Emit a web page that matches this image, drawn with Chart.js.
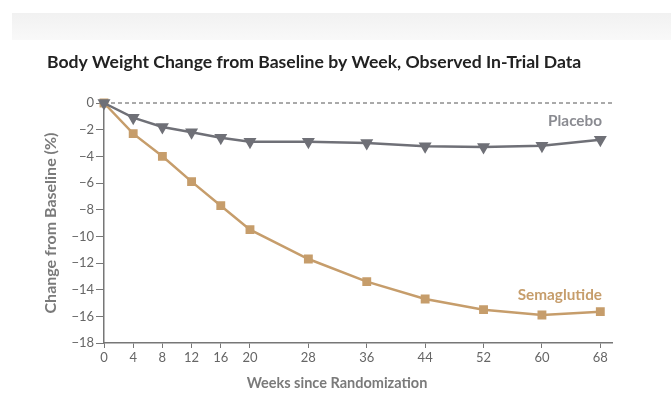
<!DOCTYPE html>
<html>
<head>
<meta charset="utf-8">
<script src="https://cdn.jsdelivr.net/npm/chart.js@4"></script>
<style>
  html, body { margin: 0; padding: 0; background: #fff; }
  #wrap { position: relative; width: 671px; height: 398px; }
  #band { position: absolute; left: 12px; top: 13px; width: 659px; height: 27px;
          background: linear-gradient(#f1f1f1, #f9f9f9); }
  #graph { position: absolute; left: 0; top: 0; }
</style>
</head>
<body>
<div id="wrap">
  <div id="band"></div>
  <canvas id="graph" width="671" height="398"></canvas>
</div>
<script>
// chart data
var weeks = [0, 4, 8, 12, 16, 20, 28, 36, 44, 52, 60, 68];
var placebo = [0, -1.1, -1.8, -2.2, -2.6, -2.9, -2.9, -3.0, -3.25, -3.3, -3.2, -2.75];
var semaglutide = [0, -2.3, -4.0, -5.9, -7.7, -9.5, -11.7, -13.4, -14.7, -15.5, -15.9, -15.65];
var yTicks = [0, -2, -4, -6, -8, -10, -12, -14, -16, -18];
var seriesNames = ["Placebo", "Semaglutide"];
var chartTitle = "Body Weight Change from Baseline by Week, Observed In-Trial Data";
var xTitle = "Weeks since Randomization";
var yTitle = "Change from Baseline (%)";

var grayCol = '#6f7077';
var tanCol = '#c69d6b';
var fontName = 'Lato, "Open Sans", sans-serif';

function pts(arr) {
  return weeks.map(function(w, i) { return {x: w, y: arr[i]}; });
}

// extra drawing: title, zero line, series labels, x title
var extras = {
  id: 'extras',
  beforeDatasetsDraw: function(chart) {
    var c = chart.ctx, y0 = chart.scales.y.getPixelForValue(0);
    c.save();
    c.strokeStyle = '#555';
    c.lineWidth = 1;
    c.setLineDash([4, 3]);
    c.beginPath();
    c.moveTo(chart.chartArea.left, y0);
    c.lineTo(chart.chartArea.right, y0);
    c.stroke();
    c.restore();
  },
  afterDraw: function(chart) {
    var c = chart.ctx;
    c.save();
    c.textBaseline = 'middle';
    c.fillStyle = '#222';
    c.font = 'bold 17.6px ' + fontName;
    c.textAlign = 'left';
    c.fillText(chartTitle, 47, 62);

    c.textAlign = 'right';
    c.font = 'bold 15.3px ' + fontName;
    c.fillStyle = '#8a8b91';
    c.fillText(seriesNames[0], 602, 121);
    c.fillStyle = tanCol;
    c.fillText(seriesNames[1], 602, 295);

    c.textAlign = 'center';
    c.fillStyle = '#7a7a7a';
    c.font = 'bold 14.5px ' + fontName;
    c.fillText(xTitle, 337, 383);
    c.restore();
  }
};

document.addEventListener('DOMContentLoaded', function() {
  var ctx = document.querySelector('#graph').getContext('2d');
  var chart = new Chart(ctx, {
    type: 'line',
    data: {
      datasets: [{
        label: seriesNames[0],
        data: pts(placebo),
        borderColor: grayCol,
        backgroundColor: grayCol,
        borderWidth: 2.5,
        pointStyle: 'triangle',
        rotation: 180,
        pointRadius: 5,
        clip: false
      }, {
        label: seriesNames[1],
        data: pts(semaglutide),
        borderColor: tanCol,
        backgroundColor: tanCol,
        borderWidth: 2.5,
        pointStyle: 'rect',
        pointRadius: 4.5,
        clip: false
      }]
    },
    options: {
      responsive: false,
      animation: false,
      layout: { padding: { left: 41, right: 59, top: 103, bottom: 0 } },
      plugins: {
        legend: { display: false },
        tooltip: { enabled: false }
      },
      scales: {
        x: {
          type: 'linear',
          min: 0,
          max: 69.6,
          afterBuildTicks: function(s) { s.ticks = weeks.map(function(v) { return {value: v}; }); },
          afterFit: function(s) { s.height = 55; },
          border: { color: '#777', width: 1.5 },
          grid: { drawOnChartArea: false, color: '#777', tickLength: 5 },
          ticks: { color: '#666', font: { family: fontName, size: 13 }, padding: 2, maxRotation: 0, autoSkip: false }
        },
        y: {
          min: -18,
          max: 0,
          afterBuildTicks: function(s) { s.ticks = yTicks.map(function(v) { return {value: v}; }); },
          afterFit: function(s) { s.width = 63; },
          border: { color: '#777', width: 1.5 },
          grid: { drawOnChartArea: false, color: '#777', tickLength: 8 },
          title: { display: true, text: yTitle, color: '#7a7a7a', font: { family: fontName, size: 16, weight: 'bold' }, padding: 0 },
          ticks: {
            color: '#666',
            font: { family: fontName, size: 13 },
            padding: 2,
            callback: function(v) { return v < 0 ? '\u2212' + Math.abs(v) : String(v); }
          }
        }
      }
    },
    plugins: [extras]
  });
});
</script>
</body>
</html>
